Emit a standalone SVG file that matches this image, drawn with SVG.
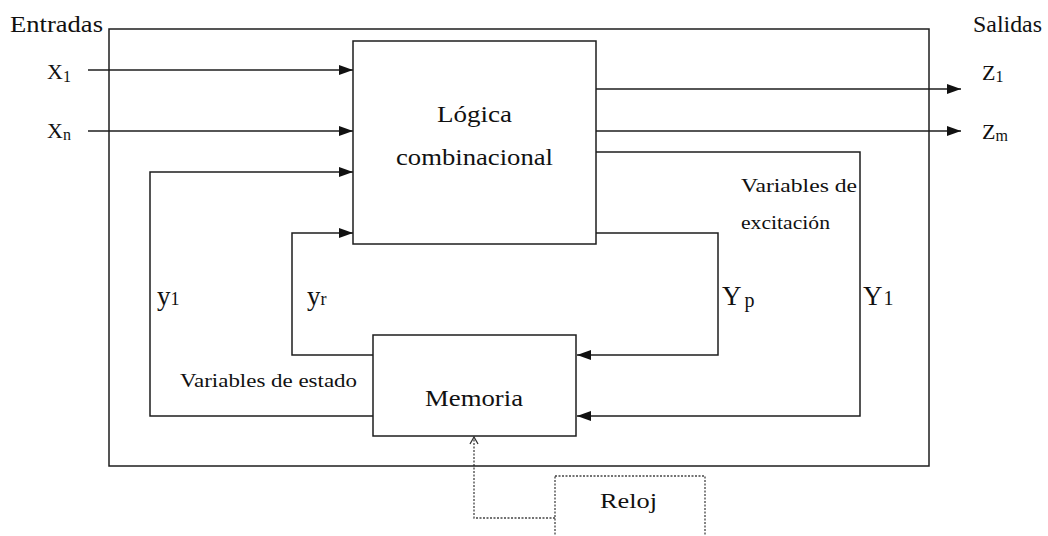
<svg xmlns="http://www.w3.org/2000/svg" width="1048" height="536" viewBox="0 0 1048 536">
<style>
.ln{fill:none;stroke:#1e1e1e;stroke-width:1.5}
.box{fill:#fff;stroke:#1e1e1e;stroke-width:1.5}
.dot{fill:none;stroke:#444;stroke-width:1.3;stroke-dasharray:2,1.5}
.big{font-size:23px}
.sm{font-size:18px}
.lbl{font-size:22px}
.sub{font-size:16px}
.yl{font-size:27px}
</style>
<defs>
<marker id="ah" markerUnits="userSpaceOnUse" markerWidth="16" markerHeight="12" refX="14" refY="5" orient="auto">
<path d="M0,0 L14,5 L0,10 z" fill="#111"/>
</marker>
<marker id="oh" markerUnits="userSpaceOnUse" markerWidth="12" markerHeight="12" refX="8" refY="5" orient="auto">
<path d="M1,1 L8,5 L1,9" fill="none" stroke="#333" stroke-width="1.3"/>
</marker>
</defs>
<rect width="1048" height="536" fill="#fff"/>
<g id="connectors">
<path class="ln" d="M88,70 H353" marker-end="url(#ah)"/>
<path class="ln" d="M88,131 H353" marker-end="url(#ah)"/>
<path class="ln" d="M373,416 H150 V172 H353" marker-end="url(#ah)"/>
<path class="ln" d="M373,355 H292 V233 H353" marker-end="url(#ah)"/>
<path class="ln" d="M596,89 H961" marker-end="url(#ah)"/>
<path class="ln" d="M596,131 H961" marker-end="url(#ah)"/>
<path class="ln" d="M596,152 H860 V416 H577" marker-end="url(#ah)"/>
<path class="ln" d="M596,233 H718 V355 H577" marker-end="url(#ah)"/>
<path class="dot" d="M555,518 H474 V437" marker-end="url(#oh)"/>
</g>
<g font-family="'Liberation Serif', 'Times New Roman', 'DejaVu Serif', serif" fill="#111">
<g id="frame">
<rect class="ln" x="109" y="29" width="820" height="437"/>
<text class="big" x="10" y="32" textLength="93" lengthAdjust="spacingAndGlyphs">Entradas</text>
<text class="big" x="973" y="32" textLength="69" lengthAdjust="spacingAndGlyphs">Salidas</text>
</g>
<g id="logica">
<rect class="box" x="353" y="41" width="243" height="203"/>
<text class="big" x="474.5" y="122" text-anchor="middle" textLength="75" lengthAdjust="spacingAndGlyphs">Lógica</text>
<text class="big" x="474.5" y="165" text-anchor="middle" textLength="157" lengthAdjust="spacingAndGlyphs">combinacional</text>
</g>
<g id="memoria">
<rect class="box" x="373" y="335" width="203" height="101"/>
<text class="big" x="425" y="406" textLength="98" lengthAdjust="spacingAndGlyphs">Memoria</text>
</g>
<g id="reloj">
<rect class="dot" x="555" y="476" width="150" height="70"/>
<text style="font-size:21px" x="600" y="508" textLength="57" lengthAdjust="spacingAndGlyphs">Reloj</text>
</g>
<g id="labels">
<text class="lbl" x="47" y="79">X<tspan class="sub" dy="3">1</tspan></text>
<text class="lbl" x="47" y="138">X<tspan class="sub" dy="2">n</tspan></text>
<text class="lbl" x="982" y="80">Z<tspan class="sub" dy="2">1</tspan></text>
<text class="lbl" x="982" y="139">Z<tspan class="sub" dy="2">m</tspan></text>
<text class="sm" x="741" y="192" textLength="116" lengthAdjust="spacingAndGlyphs">Variables  de</text>
<text class="sm" x="741" y="229" textLength="89" lengthAdjust="spacingAndGlyphs">excitación</text>
<text class="sm" x="180" y="387" textLength="177" lengthAdjust="spacingAndGlyphs">Variables de estado</text>
<text class="yl" x="157" y="305">y<tspan style="font-size:18px">1</tspan></text>
<text class="yl" x="307" y="305">y<tspan style="font-size:18px">r</tspan></text>
<text class="yl" x="722" y="305">Y<tspan style="font-size:20px" dx="3" dy="2">p</tspan></text>
<text class="yl" x="863" y="305">Y<tspan style="font-size:20px" dx="1">1</tspan></text>
</g>
</g>
</svg>
